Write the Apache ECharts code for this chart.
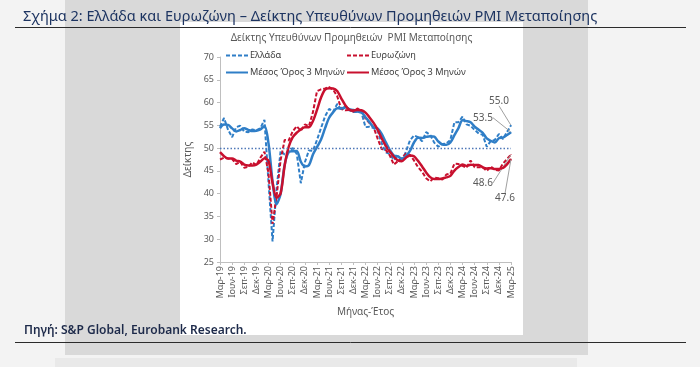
<!DOCTYPE html>
<html><head><meta charset="utf-8">
<script src="https://cdn.jsdelivr.net/npm/echarts@6/dist/echarts.min.js"></script>
<style>html,body{margin:0;padding:0;background:#f3f3f3}#c{width:700px;height:367px}</style>
</head><body><div id="c"></div>
<script>
const categories = [
'Μαρ-19','Απρ-19','Μαϊ-19','Ιουν-19','Ιουλ-19','Αυγ-19','Σεπ-19','Οκτ-19','Νοε-19','Δεκ-19',
'Ιαν-20','Φεβ-20','Μαρ-20','Απρ-20','Μαϊ-20','Ιουν-20','Ιουλ-20','Αυγ-20','Σεπ-20','Οκτ-20','Νοε-20','Δεκ-20',
'Ιαν-21','Φεβ-21','Μαρ-21','Απρ-21','Μαϊ-21','Ιουν-21','Ιουλ-21','Αυγ-21','Σεπ-21','Οκτ-21','Νοε-21','Δεκ-21',
'Ιαν-22','Φεβ-22','Μαρ-22','Απρ-22','Μαϊ-22','Ιουν-22','Ιουλ-22','Αυγ-22','Σεπ-22','Οκτ-22','Νοε-22','Δεκ-22',
'Ιαν-23','Φεβ-23','Μαρ-23','Απρ-23','Μαϊ-23','Ιουν-23','Ιουλ-23','Αυγ-23','Σεπ-23','Οκτ-23','Νοε-23','Δεκ-23',
'Ιαν-24','Φεβ-24','Μαρ-24','Απρ-24','Μαϊ-24','Ιουν-24','Ιουλ-24','Αυγ-24','Σεπ-24','Οκτ-24','Νοε-24','Δεκ-24',
'Ιαν-25','Φεβ-25','Μαρ-25'];

const greece = [54.7,56.6,54.0,52.4,54.6,54.9,53.6,53.5,54.1,53.9,
54.4,56.2,42.5,29.5,41.1,49.4,48.6,49.4,50.0,48.7,42.3,46.9,
49.5,49.4,51.8,54.4,57.0,58.6,58.0,59.7,58.4,58.9,58.3,57.9,
57.9,57.8,54.6,54.7,54.4,53.8,51.1,49.1,48.7,47.4,48.4,47.2,
49.2,51.7,52.8,52.4,51.5,53.5,52.9,51.2,50.3,50.9,51.0,51.8,
55.7,55.7,56.9,55.2,54.9,54.0,53.2,52.9,50.3,51.6,51.8,53.1,
52.0,53.5,55.0];

const greeceMA3 = [54.37,55.17,55.1,54.33,53.67,53.97,54.37,54.0,53.73,53.83,
54.13,54.83,51.03,42.73,37.7,40.0,46.37,49.13,49.33,49.37,47.0,45.97,
46.23,48.6,50.23,51.87,54.4,56.67,57.87,58.77,58.7,59.0,58.53,58.37,
58.03,57.87,56.77,55.7,54.57,54.3,53.1,51.33,49.63,48.4,48.17,47.67,
48.27,49.37,51.23,52.3,52.23,52.47,52.63,52.53,51.47,50.8,50.73,51.23,
52.83,54.4,56.1,55.93,55.67,54.7,54.03,53.37,52.13,51.6,51.23,52.17,
52.3,52.87,53.5];

const eurozone = [47.5,47.9,47.7,47.6,46.5,47.0,45.7,45.9,46.9,46.3,
47.9,49.2,44.5,33.4,39.4,47.4,51.8,51.7,53.7,54.8,53.8,55.2,
54.8,57.9,62.5,62.9,63.1,63.4,62.8,61.4,58.6,58.3,58.4,58.0,
58.7,58.2,56.5,55.5,54.6,52.1,49.8,49.6,48.4,46.4,47.1,47.8,
48.8,48.5,47.3,45.8,44.8,43.4,42.7,43.5,43.4,43.1,44.2,44.4,
46.6,46.5,46.1,45.7,47.3,45.8,45.8,45.8,45.0,46.0,45.2,45.1,
46.6,47.6,48.6];

const eurozoneMA3 = [49.1,48.23,47.7,47.73,47.27,47.03,46.4,46.2,46.17,46.37,
47.03,47.8,47.2,42.37,39.1,40.07,46.2,50.3,52.4,53.4,54.1,54.6,
54.6,55.97,58.4,61.1,62.83,63.13,63.1,62.53,60.93,59.43,58.43,58.23,
58.37,58.3,57.8,56.73,55.53,54.07,52.17,50.5,49.27,48.13,47.3,47.1,
47.9,48.37,48.2,47.2,45.97,44.67,43.63,43.2,43.2,43.33,43.57,43.9,
45.07,45.83,46.4,46.1,46.37,46.27,46.3,45.8,45.53,45.6,45.4,45.43,
45.63,46.43,47.6];

const yTicks = {min: 25, max: 70, interval: 5};
const referenceLevel = 50;

const FONT = '"Noto Sans", "DejaVu Sans", sans-serif';
const BLUE = '#2f7ec7', RED = '#c8102e', GRAY = '#595959';
const NAME_GR = 'Ελλάδα', NAME_EZ = 'Ευρωζώνη';
const NAME_MA = 'Μέσος Όρος 3 Μηνών', NAME_MA2 = 'Μέσος Όρος 3 Μηνών\u200b';

function endLabeled(arr, pos, color) {
  return arr.map((v, i) => i === arr.length - 1
    ? {value: v, symbol: 'circle', symbolSize: 1, itemStyle: {color: color},
       label: {show: true, position: pos, opacity: 1}}
    : v);
}
function layoutFor(arr, off) {
  return function (p) { return p.dataIndex === arr.length - 1 ? off : {}; };
}
const labelCommon = {show: false, color: GRAY, fontSize: 10, fontFamily: FONT,
  formatter: p => Number(p.value).toFixed(1)};
const labelLineCommon = {show: true, smooth: false, lineStyle: {color: '#a0a0a0', width: 1}};

function legendAt(name, left, top) {
  return {data: [name], left: left, top: top, itemWidth: 22, itemHeight: 10, itemGap: 4,
    padding: 0, selectedMode: false,
    itemStyle: {opacity: 0},
    formatter: n => n.replace('\u200b', ''),
    textStyle: {color: '#404040', fontSize: 9.2, fontFamily: FONT, padding: [0, 0, 0, -3]}};
}

const chart = echarts.init(document.getElementById('c'), null, {renderer: 'canvas'});
chart.setOption({
  backgroundColor: '#f3f3f3',
  animation: false,
  textStyle: {fontFamily: FONT},
  graphic: [
    {type: 'rect', z: -5, shape: {x: 65, y: 0, width: 523, height: 355}, style: {fill: '#d9d9d9'}},
    {type: 'rect', z: -5, shape: {x: 55, y: 358, width: 522, height: 9}, style: {fill: '#e9e9e9'}},
    {type: 'rect', z: -4, shape: {x: 180, y: 22, width: 343, height: 313}, style: {fill: '#ffffff'}},
    {type: 'line', z: 10, shape: {x1: 15, y1: 27.5, x2: 686, y2: 27.5}, style: {stroke: '#2b2b2b', lineWidth: 1}},
    {type: 'line', z: 10, shape: {x1: 15, y1: 342.5, x2: 686, y2: 342.5}, style: {stroke: '#2b2b2b', lineWidth: 1}},
    {type: 'text', z: 10, x: 23, y: 17, style: {text: 'Σχήμα 2: Ελλάδα και Ευρωζώνη – Δείκτης Υπευθύνων Προμηθειών PMI Μεταποίησης',
      fill: '#1d3461', font: '14.5px ' + FONT, verticalAlign: 'middle'}},
    {type: 'text', z: 10, x: 24, y: 331, style: {text: 'Πηγή: S&P Global, Eurobank Research.',
      fill: '#1d2a4a', font: '600 12px ' + FONT, verticalAlign: 'middle'}},
    {type: 'text', z: 10, x: 351.5, y: 38, style: {text: 'Δείκτης Υπευθύνων Προμηθειών  PMI Μεταποίησης',
      fill: GRAY, font: '10px ' + FONT, align: 'center', verticalAlign: 'middle'}}
  ],
  legend: [
    legendAt(NAME_GR, 225, 51),
    legendAt(NAME_EZ, 346, 51),
    legendAt(NAME_MA, 225, 68),
    legendAt(NAME_MA2, 346, 68)
  ],
  grid: {left: 220, right: 189, top: 57, bottom: 105, containLabel: false},
  xAxis: {
    type: 'category', data: categories, boundaryGap: false,
    name: 'Μήνας-Έτος', nameLocation: 'middle', nameGap: 45,
    nameTextStyle: {color: GRAY, fontSize: 10, fontFamily: FONT},
    axisLine: {lineStyle: {color: '#bfbfbf', width: 1}},
    axisTick: {show: true, interval: 2, length: 3, lineStyle: {color: '#bfbfbf'}},
    axisLabel: {interval: 2, rotate: 90, color: GRAY, fontSize: 9, fontFamily: FONT, margin: 4},
    splitLine: {show: false}
  },
  yAxis: {
    type: 'value', min: yTicks.min, max: yTicks.max, interval: yTicks.interval,
    name: 'Δείκτης', nameLocation: 'middle', nameGap: 27,
    nameTextStyle: {color: GRAY, fontSize: 10, fontFamily: FONT},
    axisLine: {show: true, lineStyle: {color: '#bfbfbf', width: 1}},
    axisTick: {show: true, length: 3, lineStyle: {color: '#bfbfbf'}},
    axisLabel: {color: GRAY, fontSize: 9, fontFamily: FONT, margin: 6},
    splitLine: {show: false}
  },
  series: [
    {name: NAME_GR, type: 'line', data: endLabeled(greece, 'top', BLUE), symbol: 'none', showAllSymbol: true, z: 3,
      lineStyle: {color: BLUE, width: 2, type: [4, 2]}, itemStyle: {color: BLUE},
      label: labelCommon, labelLine: labelLineCommon, labelLayout: layoutFor(greece, {dx: -12, dy: -14}),
      markLine: {silent: true, symbol: 'none', label: {show: false},
        lineStyle: {color: '#4f78b8', width: 1.3, type: [1.5, 2]}, data: [{yAxis: referenceLevel}]}},
    {name: NAME_EZ, type: 'line', data: endLabeled(eurozone, 'bottom', RED), symbol: 'none', showAllSymbol: true, z: 3,
      lineStyle: {color: RED, width: 2, type: [4, 2]}, itemStyle: {color: RED},
      label: labelCommon, labelLine: labelLineCommon, labelLayout: layoutFor(eurozone, {dx: -28, dy: 18})},
    {name: NAME_MA, type: 'line', data: endLabeled(greeceMA3, 'top', BLUE), symbol: 'none', showAllSymbol: true, smooth: 0.3, z: 4,
      lineStyle: {color: BLUE, width: 2.5}, itemStyle: {color: BLUE},
      label: labelCommon, labelLine: labelLineCommon, labelLayout: layoutFor(greeceMA3, {dx: -28, dy: -4})},
    {name: NAME_MA2, type: 'line', data: endLabeled(eurozoneMA3, 'bottom', RED), symbol: 'none', showAllSymbol: true, smooth: 0.3, z: 4,
      lineStyle: {color: RED, width: 2.5}, itemStyle: {color: RED},
      label: labelCommon, labelLine: labelLineCommon, labelLayout: layoutFor(eurozoneMA3, {dx: -6, dy: 29})}
  ]
});
</script></body></html>
